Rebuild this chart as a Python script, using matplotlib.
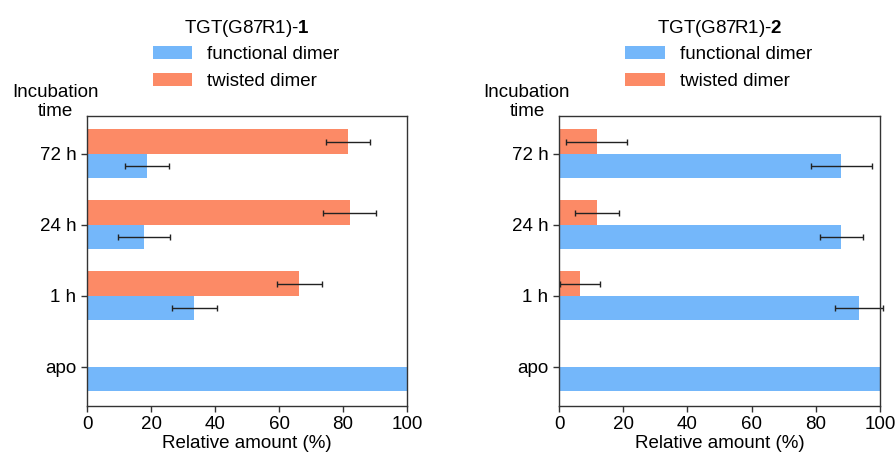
import numpy as np
import matplotlib
matplotlib.use('Agg')
from matplotlib import pyplot as plt
from matplotlib.patches import Patch

# data
times = ['apo', '1 h', '24 h', '72 h']
titles = ['1', '2']

functional_1 = [100, 33.5, 17.8, 18.8]
functional_1_err = [0, 7.0, 8.0, 6.8]
twisted_1 = [0, 66.3, 82.1, 81.5]
twisted_1_err = [0, 7.0, 8.3, 6.8]

functional_2 = [100, 93.4, 87.9, 88.0]
functional_2_err = [0, 7.5, 6.7, 9.4]
twisted_2 = [0, 6.5, 11.9, 11.7]
twisted_2_err = [0, 6.3, 6.8, 9.5]

BLUE = '#74b7fa'
ORANGE = '#fc8a66'

plt.rcParams['font.family'] = ['Liberation Sans', 'DejaVu Sans']
plt.rcParams['mathtext.fontset'] = 'custom'
plt.rcParams['mathtext.rm'] = 'Liberation Sans'
plt.rcParams['mathtext.bf'] = 'Liberation Sans:bold'

fig = plt.figure(figsize=(8.96, 4.53), dpi=100)
ax1 = fig.add_axes([87 / 896, 1 - 406 / 453, 320 / 896, 290 / 453])
ax2 = fig.add_axes([559 / 896, 1 - 406 / 453, 321 / 896, 290 / 453])

panels = [
    (ax1, functional_1, functional_1_err, twisted_1, twisted_1_err, titles[0]),
    (ax2, functional_2, functional_2_err, twisted_2, twisted_2_err, titles[1]),
]


def draw_err(ax, vals, errs, ypos):
    m = np.array(errs) > 0
    eb = ax.errorbar(np.array(vals)[m], ypos[m], xerr=np.array(errs)[m],
                     fmt='none', ecolor='#222222', elinewidth=1, capsize=2,
                     capthick=1)
    for art in eb.get_children():
        art.set_clip_on(False)


h = 0.345
y = np.arange(len(times))
for ax, fv, fe, tv, te, num in panels:
    ax.barh(y - h / 2, fv, height=h, color=BLUE)
    ax.barh(y + h / 2, tv, height=h, color=ORANGE)
    draw_err(ax, fv, fe, y - h / 2)
    draw_err(ax, tv, te, y + h / 2)

    ax.set_xlim(0, 100)
    ax.set_ylim(-0.55, 3.535)
    ax.set_yticks(y)
    ax.set_yticklabels(times)
    ax.set_xticks([0, 20, 40, 60, 80, 100])
    ax.tick_params(labelsize=13.5, length=4, width=1, color='#333333')
    ax.set_xlabel('Relative amount (%)', fontsize=13.5, labelpad=1)
    for s in ax.spines.values():
        s.set_color('#333333')
        s.set_linewidth(1)

    ax.text(-0.1, 1.048, 'Incubation\ntime', transform=ax.transAxes,
            ha='center', va='center', fontsize=13.5, linespacing=1.2)

    ax.text(0.5, 1.303, 'TGT(G87R1)-$\\mathbf{' + num + '}$',
            transform=ax.transAxes, ha='center', va='center', fontsize=13.5)

    handles = [Patch(facecolor=BLUE), Patch(facecolor=ORANGE)]
    ax.legend(handles, ['functional dimer', 'twisted dimer'],
              loc='center left', bbox_to_anchor=(0.206, 1.165),
              frameon=False, fontsize=13.5, borderpad=0, borderaxespad=0,
              handlelength=2.1, handleheight=0.7, handletextpad=0.8,
              labelspacing=0.5)

fig.savefig('out.png', dpi=100)
